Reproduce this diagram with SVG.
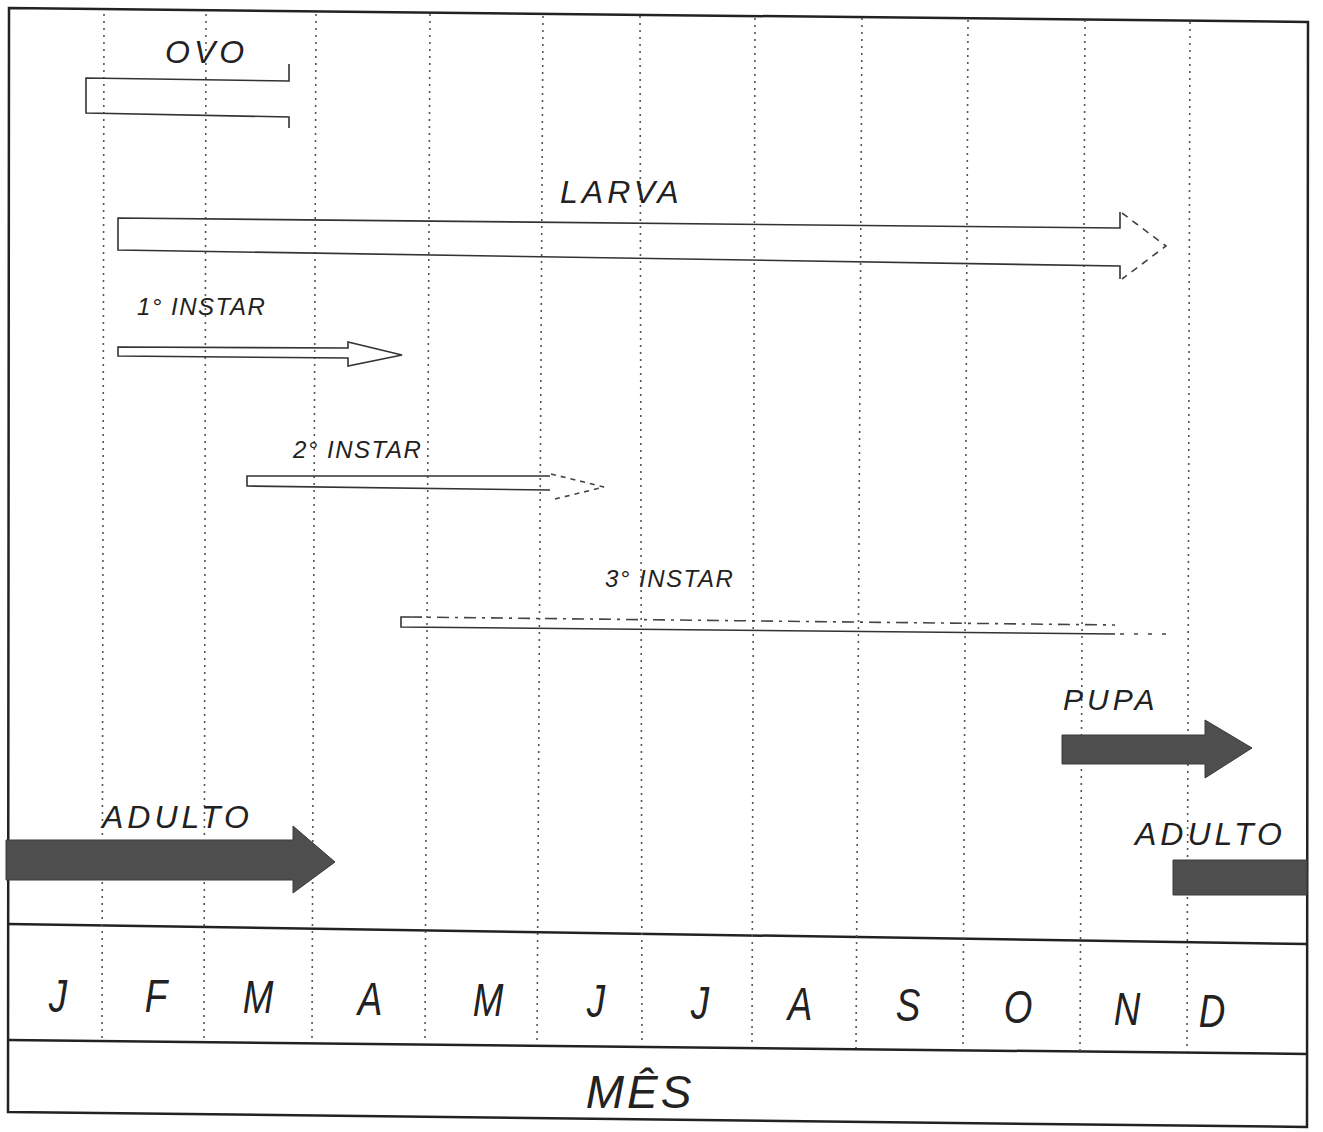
<svg xmlns="http://www.w3.org/2000/svg" width="1323" height="1132" viewBox="0 0 1323 1132">
<style>
.frame{fill:none;stroke:#222;stroke-width:2.5}
.grid{stroke:#555;stroke-width:1.6;stroke-dasharray:2 5}
.lbl{font-family:"Liberation Sans",Arial,sans-serif;font-style:italic;fill:#222;letter-spacing:4px}
.mon{font-family:"Liberation Sans",Arial,sans-serif;font-style:italic;fill:#222;font-size:46px;text-anchor:middle}
.out{fill:none;stroke:#333;stroke-width:1.6;stroke-linejoin:miter}
.dash{fill:none;stroke:#444;stroke-width:1.6;stroke-dasharray:7 6}
.solid{fill:#4e4e4e;stroke:#3a3a3a;stroke-width:1}
</style>
<rect width="1323" height="1132" fill="#fff"/>
<g id="frame">
<path class="frame" d="M9,8 L1308,22 L1307,1127 L8,1112 Z"/>
<path class="frame" d="M8,924 L1307,944"/>
<path class="frame" d="M8,1040 L1307,1054"/>
</g>
<g id="grid">
<line class="grid" x1="104" y1="14" x2="102" y2="1038"/>
<line class="grid" x1="206" y1="14" x2="204" y2="1038"/>
<line class="grid" x1="316" y1="14" x2="312" y2="1038"/>
<line class="grid" x1="430" y1="14" x2="425" y2="1040"/>
<line class="grid" x1="543" y1="16" x2="537" y2="1042"/>
<line class="grid" x1="640" y1="16" x2="642" y2="1044"/>
<line class="grid" x1="755" y1="18" x2="752" y2="1046"/>
<line class="grid" x1="862" y1="18" x2="856" y2="1048"/>
<line class="grid" x1="968" y1="20" x2="963" y2="1050"/>
<line class="grid" x1="1085" y1="20" x2="1080" y2="1052"/>
<line class="grid" x1="1190" y1="22" x2="1187" y2="1052"/>
</g>
<g id="ovo">
<text class="lbl" x="165" y="63" font-size="32">OVO</text>
<path class="out" d="M289,64 L289,81 L86,78 L86,113 L289,117 L289,128"/>
</g>
<g id="larva">
<text class="lbl" x="560" y="203" font-size="32">LARVA</text>
<path class="out" d="M1120,212 L1120,228 L118,218 L118,250 L1120,266 L1120,279"/>
<path class="dash" d="M1122,213 L1166,246 L1122,279"/>
</g>
<g id="instar1">
<text class="lbl" x="137" y="315" font-size="24" style="letter-spacing:1.5px">1° INSTAR</text>
<path class="out" d="M118,347 L348,348 L348,342 L402,355 L348,366 L348,358 L118,356 Z"/>
</g>
<g id="instar2">
<text class="lbl" x="293" y="458" font-size="24" style="letter-spacing:1.5px">2° INSTAR</text>
<path class="out" d="M550,476 L247,476 L247,486 L550,490"/>
<path class="dash" d="M551,474 L604,487 L551,500" style="stroke-dasharray:5 5"/>
</g>
<g id="instar3">
<text class="lbl" x="605" y="587" font-size="24" style="letter-spacing:1.5px">3° INSTAR</text>
<path class="out" d="M410,617 L401,617 L401,627 L1115,634"/>
<path class="dash" d="M410,617 L1115,625" style="stroke-dasharray:12 6 3 6"/>
<path class="dash" d="M1120,634 L1172,634" style="stroke-dasharray:4 10"/>
</g>
<g id="pupa">
<text class="lbl" x="1063" y="710" font-size="30">PUPA</text>
<path class="solid" d="M1062,735 L1205,735 L1205,720 L1252,748 L1205,778 L1205,764 L1062,764 Z"/>
</g>
<g id="adulto1">
<text class="lbl" x="102" y="828" font-size="32">ADULTO</text>
<path class="solid" d="M6,840 L293,840 L293,826 L335,862 L293,893 L293,880 L6,880 Z"/>
</g>
<g id="adulto2">
<text class="lbl" x="1135" y="845" font-size="32">ADULTO</text>
<path class="solid" d="M1173,860 L1307,860 L1307,895 L1173,895 Z"/>
</g>
<g id="months">
<text class="mon" transform="translate(58,1012) scale(0.8,1)">J</text>
<text class="mon" transform="translate(156,1012) scale(0.8,1)">F</text>
<text class="mon" transform="translate(258,1013) scale(0.8,1)">M</text>
<text class="mon" transform="translate(370,1015) scale(0.8,1)">A</text>
<text class="mon" transform="translate(488,1016) scale(0.8,1)">M</text>
<text class="mon" transform="translate(596,1017) scale(0.8,1)">J</text>
<text class="mon" transform="translate(700,1019) scale(0.8,1)">J</text>
<text class="mon" transform="translate(800,1020) scale(0.8,1)">A</text>
<text class="mon" transform="translate(908,1021) scale(0.8,1)">S</text>
<text class="mon" transform="translate(1018,1023) scale(0.8,1)">O</text>
<text class="mon" transform="translate(1127,1025) scale(0.8,1)">N</text>
<text class="mon" transform="translate(1212,1027) scale(0.8,1)">D</text>
</g>
<text class="lbl" x="640" y="1108" font-size="46" text-anchor="middle" style="letter-spacing:3px">MÊS</text>
</svg>
